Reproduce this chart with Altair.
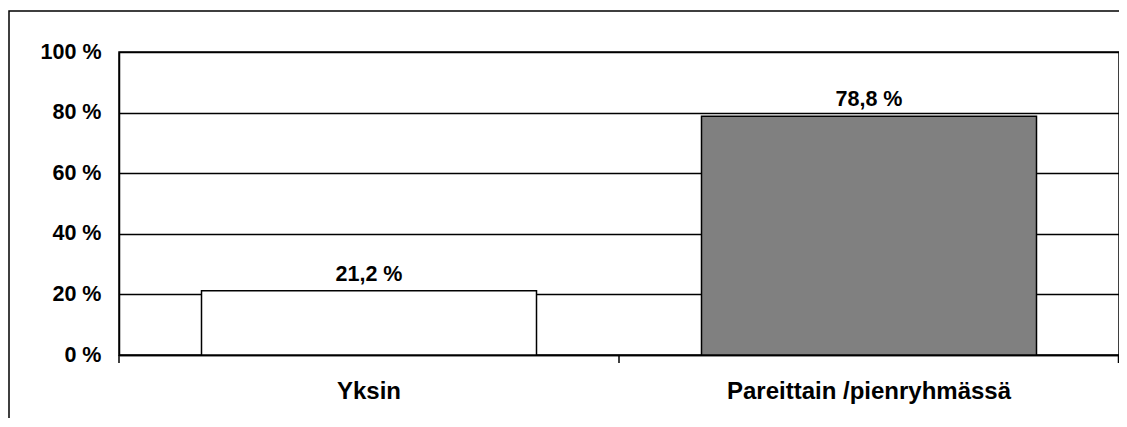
import altair as alt
import pandas as pd

categories = ["Yksin", "Pareittain /pienryhmässä"]
values = [21.2, 78.8]
value_labels = ["21,2 %", "78,8 %"]
bar_colors = ["#ffffff", "#808080"]
y_ticks = [0, 20, 40, 60, 80, 100]

df = pd.DataFrame({"cat": categories, "val": values, "lab": value_labels})

W = 1000
H = 303
FONT = "Liberation Sans"

x_enc = alt.X(
    "cat:N",
    sort=categories,
    scale=alt.Scale(paddingInner=0.33, paddingOuter=0.165),
    axis=alt.Axis(
        title=None,
        labelAngle=0,
        labelLimit=0,
        ticks=False,
        domainColor="black",
        domainWidth=1.5,
        labelFont=FONT,
        labelFontSize=24,
        labelFontWeight="bold",
        labelColor="black",
        labelPadding=24,
    ),
)
y_enc = alt.Y(
    "val:Q",
    scale=alt.Scale(domain=[0, 100], nice=False),
    axis=alt.Axis(
        title=None,
        values=y_ticks,
        labelExpr="datum.value + ' %'",
        grid=True,
        gridColor="black",
        gridWidth=1.5,
        gridOpacity=1,
        ticks=False,
        domainColor="black",
        domainWidth=1.5,
        labelFont=FONT,
        labelFontSize=21.5,
        labelFontWeight="bold",
        labelColor="black",
        labelPadding=18,
    ),
)

base = alt.Chart(df)

bars = base.mark_bar(stroke="black", strokeWidth=1.5).encode(
    x=x_enc,
    y=y_enc,
    color=alt.Color("cat:N", scale=alt.Scale(domain=categories, range=bar_colors), legend=None),
)

texts = base.mark_text(
    font=FONT, fontSize=21.5, fontWeight="bold", color="black", baseline="alphabetic", dy=-10
).encode(x=alt.X("cat:N", sort=categories), y="val:Q", text="lab:N")

one = alt.Data(values=[{}])
frame = alt.Chart(one).mark_rect(fill="transparent", stroke="black", strokeWidth=1.5).encode(
    x=alt.value(-110), x2=alt.value(W + 30), y=alt.value(-41), y2=alt.value(H + 120)
)
ticks = [
    alt.Chart(one).mark_rule(color="black", strokeWidth=1.5).encode(
        x=alt.value(px), y=alt.value(H), y2=alt.value(H + 8)
    )
    for px in (0, W / 2, W - 0.5)
]

chart = alt.layer(frame, bars, texts, *ticks).properties(
    width=W,
    height=H,
    autosize=alt.AutoSizeParams(type="none"),
    padding={"left": 111, "top": 44, "right": 0, "bottom": 63},
    background="white",
).configure_view(stroke="black", strokeWidth=1.5)

chart.save("out.html", embed_options={"renderer": "svg", "actions": False})
